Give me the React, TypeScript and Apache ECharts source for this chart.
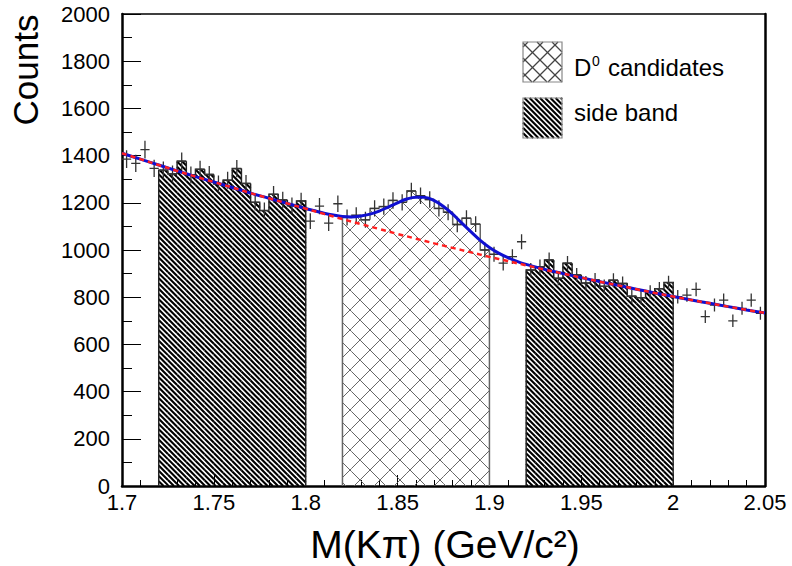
import React, { useEffect, useRef } from "react";
import * as echarts from "echarts";

// ---- data ----
const BIN_START = 1.7;
const BIN_WIDTH = 0.005;
const counts = [
  1385, 1367, 1425, 1346, 1338, 1322, 1376, 1318, 1342, 1320,
  1280, 1296, 1345, 1282, 1202, 1167, 1236, 1212, 1188, 1208,
  1122, 1186, 1114, 1196, 1138, 1147, 1128, 1176, 1184, 1210,
  1202, 1250, 1230, 1214, 1176, 1160, 1108, 1135, 1110, 1000,
  982, 944, 972, 1035, 915, 929, 958, 880, 944, 894,
  860, 873, 846, 872, 858, 804, 798, 822, 836, 862,
  802, 809, 833, 718, 767, 788, 700, 753, 788, 732,
];
const sideBandRanges: [number, number][] = [
  [1.72, 1.8],
  [1.92, 2.0],
];
const signalRange: [number, number] = [1.82, 1.9];

const bgX = [
  1.7, 1.71, 1.72, 1.73, 1.74, 1.75, 1.76, 1.77, 1.78, 1.79, 1.8, 1.81,
  1.82, 1.83, 1.84, 1.85, 1.86, 1.87, 1.88, 1.89, 1.9, 1.91, 1.92, 1.93,
  1.94, 1.95, 1.96, 1.97, 1.98, 1.99, 2.0, 2.01, 2.02, 2.03, 2.04, 2.05,
];
const bgY = [
  1410, 1385, 1360, 1335, 1311, 1288, 1265, 1241, 1219, 1197, 1175, 1153,
  1131, 1110, 1089, 1068, 1048, 1028, 1009, 990, 971, 953, 935, 917,
  900, 883, 866, 850, 834, 818, 803, 788, 774, 760, 746, 733,
];

const fitX = [
  1.7, 1.71, 1.72, 1.73, 1.74, 1.75, 1.76, 1.77, 1.78, 1.79,
  1.8, 1.805, 1.81, 1.815, 1.82, 1.825, 1.83, 1.835, 1.84, 1.845,
  1.85, 1.855, 1.86, 1.865, 1.87, 1.875, 1.88, 1.885, 1.89, 1.895,
  1.9, 1.905, 1.91, 1.915, 1.92,
  1.93, 1.94, 1.95, 1.96, 1.97, 1.98, 1.99, 2.0, 2.01, 2.02, 2.03, 2.04, 2.05,
];
const fitY = [
  1410, 1385, 1360, 1335, 1311, 1288, 1265, 1241, 1219, 1197,
  1176, 1166, 1156, 1148, 1142, 1140, 1144, 1152, 1165, 1182,
  1200, 1216, 1224, 1223, 1209, 1184, 1152, 1114, 1077, 1041,
  1011, 987, 968, 952, 939,
  918, 900, 883, 866, 850, 834, 818, 803, 788, 774, 760, 746, 733,
];

const xTickLabels = ["1.7", "1.75", "1.8", "1.85", "1.9", "1.95", "2", "2.05"];
const yTickLabels = ["0", "200", "400", "600", "800", "1000", "1200", "1400", "1600", "1800", "2000"];
const xTitle = "M(Kπ) (GeV/c²)";
const yTitle = "Counts";
const legendSignal = ["D", "0", "candidates"];
const legendSide = "side band";

const FONT = "'Liberation Sans', Arial, Helvetica, sans-serif";

// ---- helpers ----
function hatchSegs(x0: number, y0: number, x1: number, y1: number, sp: number, dir: number) {
  const segs: number[][] = [];
  if (dir > 0) {
    const kMin = Math.ceil((y0 - x1) / sp);
    const kMax = Math.floor((y1 - x0) / sp);
    for (let k = kMin; k <= kMax; k++) {
      const c = k * sp;
      const xa = Math.max(x0, y0 - c);
      const xb = Math.min(x1, y1 - c);
      if (xb > xa) segs.push([xa, xa + c, xb, xb + c]);
    }
  } else {
    const kMin = Math.ceil((x0 + y0) / sp);
    const kMax = Math.floor((x1 + y1) / sp);
    for (let k = kMin; k <= kMax; k++) {
      const c = k * sp;
      const xa = Math.max(x0, c - y1);
      const xb = Math.min(x1, c - y0);
      if (xb > xa) segs.push([xa, c - xa, xb, c - xb]);
    }
  }
  return segs;
}
function segsToPath(segs: number[][]) {
  return segs
    .map((s) => `M${s[0].toFixed(2)} ${s[1].toFixed(2)}L${s[2].toFixed(2)} ${s[3].toFixed(2)}`)
    .join("");
}

function bandItems(range: [number, number]) {
  const items: number[][] = [];
  const bins: number[] = [];
  for (let i = 0; i < counts.length; i++) {
    const lo = BIN_START + i * BIN_WIDTH;
    const hi = lo + BIN_WIDTH;
    if (lo >= range[0] - 1e-9 && hi <= range[1] + 1e-9) bins.push(i);
  }
  bins.forEach((i, j) => {
    const lo = BIN_START + i * BIN_WIDTH;
    const prev = j === 0 ? 0 : counts[bins[j - 1]];
    const last = j === bins.length - 1 ? 1 : 0;
    items.push([lo, lo + BIN_WIDTH, counts[i], prev, last]);
  });
  return items;
}

function makeHistRender(kind: "side" | "signal") {
  return (params: any, api: any) => {
    const lo = api.value(0);
    const hi = api.value(1);
    const v = api.value(2);
    const pv = api.value(3);
    const last = api.value(4);
    const a = api.coord([lo, 0]);
    const b = api.coord([hi, v]);
    const pvY = api.coord([lo, pv])[1];
    const x0 = a[0], yb = a[1], x1 = b[0], yt = b[1];
    let hatch = "";
    if (kind === "side") {
      hatch = segsToPath(hatchSegs(x0, yt, x1, yb, 5.2, 1));
    } else {
      hatch =
        segsToPath(hatchSegs(x0, yt, x1, yb, 20, 1)) +
        segsToPath(hatchSegs(x0, yt, x1, yb, 20, -1));
    }
    let outline = `M${x0} ${pvY}L${x0} ${yt}L${x1} ${yt}`;
    if (last) outline += `L${x1} ${yb}`;
    const children: any[] = [];
    if (hatch)
      children.push({
        type: "path",
        shape: { pathData: hatch },
        style: {
          fill: "none",
          stroke: kind === "side" ? "#000" : "#666",
          lineWidth: kind === "side" ? 2.1 : 1,
        },
      });
    children.push({
      type: "path",
      shape: { pathData: outline },
      style: { fill: "none", stroke: kind === "side" ? "#222" : "#666", lineWidth: 1.5 },
    });
    return { type: "group", children };
  };
}

function crossRender(params: any, api: any) {
  const x = api.value(0);
  const y = api.value(1);
  const err = Math.sqrt(y);
  const c = api.coord([x, y]);
  const xl = api.coord([x - BIN_WIDTH / 2, y])[0];
  const xr = api.coord([x + BIN_WIDTH / 2, y])[0];
  const yt = api.coord([x, y + err])[1];
  const yb = api.coord([x, y - err])[1];
  return {
    type: "path",
    shape: { pathData: `M${xl} ${c[1]}L${xr} ${c[1]}M${c[0]} ${yt}L${c[0]} ${yb}` },
    style: { fill: "none", stroke: "#333", lineWidth: 1.3 },
  };
}

function legendBox(x: number, y: number, w: number, h: number, kind: "side" | "signal") {
  const els: any[] = [];
  const segs =
    kind === "side"
      ? hatchSegs(x, y, x + w, y + h, 5.2, 1)
      : hatchSegs(x, y, x + w, y + h, 15, 1).concat(hatchSegs(x, y, x + w, y + h, 15, -1));
  segs.forEach((s) =>
    els.push({
      type: "line",
      shape: { x1: s[0], y1: s[1], x2: s[2], y2: s[3] },
      style: { stroke: kind === "side" ? "#000" : "#444", lineWidth: kind === "side" ? 2.1 : 1.2 },
      silent: true,
    })
  );
  els.push({
    type: "rect",
    shape: { x, y, width: w, height: h },
    style: { fill: "none", stroke: "#888", lineWidth: 1.2 },
    silent: true,
  });
  return els;
}

export default function App() {
  const ref = useRef<HTMLDivElement>(null);
  useEffect(() => {
    if (!ref.current) return;
    const chart = echarts.init(ref.current, null, { renderer: "svg" });

    const crossData = counts.map((v, i) => [BIN_START + (i + 0.5) * BIN_WIDTH, v]);
    const bgData = bgX.map((x, i) => [x, bgY[i]]);
    const fitData = fitX.map((x, i) => [x, fitY[i]]);

    const graphic: any[] = [
      ...legendBox(523, 42, 39, 40, "signal"),
      ...legendBox(523, 98, 39, 40, "side"),
      {
        type: "text",
        x: 574,
        y: 67,
        style: { text: legendSignal[0], font: `24px ${FONT}`, fill: "#000", verticalAlign: "middle", align: "left" },
      },
      {
        type: "text",
        x: 592,
        y: 61,
        style: { text: legendSignal[1], font: `14px ${FONT}`, fill: "#000", verticalAlign: "middle", align: "left" },
      },
      {
        type: "text",
        x: 608,
        y: 67,
        style: { text: legendSignal[2], font: `24px ${FONT}`, fill: "#000", verticalAlign: "middle", align: "left" },
      },
      {
        type: "text",
        x: 574,
        y: 112,
        style: { text: legendSide, font: `24px ${FONT}`, fill: "#000", verticalAlign: "middle", align: "left" },
      },
      {
        type: "text",
        x: 25,
        y: 70,
        rotation: Math.PI / 2,
        style: { text: yTitle, font: `35px ${FONT}`, fill: "#000", verticalAlign: "middle", align: "center" },
      },
      {
        type: "text",
        x: 445,
        y: 544,
        style: { text: xTitle, font: `39px ${FONT}`, fill: "#000", verticalAlign: "middle", align: "center" },
      },
    ];

    chart.setOption({
      animation: false,
      backgroundColor: "#fff",
      grid: { left: 122, top: 14, right: 27, bottom: 80, containLabel: false },
      xAxis: [
        {
          type: "value",
          min: 1.7,
          max: 2.05,
          interval: 0.05,
          axisLine: { show: true, onZero: false, lineStyle: { color: "#000", width: 2.5 } },
          axisTick: { show: true, inside: true, length: 11, lineStyle: { color: "#000", width: 1 } },
          minorTick: { show: true, splitNumber: 5, length: 6, lineStyle: { color: "#000", width: 1 } },
          splitLine: { show: false },
          axisLabel: {
            fontSize: 22,
            fontFamily: FONT,
            color: "#000",
            margin: 5,
            formatter: (v: number) => xTickLabels[Math.round((v - 1.7) / 0.05)] ?? "",
          },
        },
        {
          type: "value",
          position: "top",
          min: 1.7,
          max: 2.05,
          axisLine: { show: true, onZero: false, lineStyle: { color: "#000", width: 1.5 } },
          axisTick: { show: false },
          axisLabel: { show: false },
          splitLine: { show: false },
        },
      ],
      yAxis: [
        {
          type: "value",
          min: 0,
          max: 2000,
          interval: 200,
          axisLine: { show: true, onZero: false, lineStyle: { color: "#000", width: 2.5 } },
          axisTick: { show: true, inside: true, length: 19, lineStyle: { color: "#000", width: 1 } },
          minorTick: { show: true, splitNumber: 2, length: 10, lineStyle: { color: "#000", width: 1 } },
          splitLine: { show: false },
          axisLabel: {
            fontSize: 22,
            fontFamily: FONT,
            color: "#000",
            margin: 12,
            formatter: (v: number) => yTickLabels[Math.round(v / 200)] ?? "",
          },
        },
        {
          type: "value",
          position: "right",
          min: 0,
          max: 2000,
          axisLine: { show: true, onZero: false, lineStyle: { color: "#000", width: 2.5 } },
          axisTick: { show: false },
          axisLabel: { show: false },
          splitLine: { show: false },
        },
      ],
      series: [
        {
          type: "custom",
          name: "side band",
          renderItem: makeHistRender("side"),
          data: [...bandItems(sideBandRanges[0]), ...bandItems(sideBandRanges[1])],
          encode: { x: [0, 1], y: 2 },
          z: 1,
          silent: true,
        },
        {
          type: "custom",
          name: "D0 candidates",
          renderItem: makeHistRender("signal"),
          data: bandItems(signalRange),
          encode: { x: [0, 1], y: 2 },
          z: 1,
          silent: true,
        },
        {
          type: "custom",
          name: "data",
          renderItem: crossRender,
          data: crossData,
          encode: { x: 0, y: 1 },
          z: 2,
          silent: true,
        },
        {
          type: "line",
          name: "fit",
          data: fitData,
          smooth: 0.4,
          showSymbol: false,
          lineStyle: { color: "#1010d0", width: 3 },
          z: 3,
          silent: true,
        },
        {
          type: "line",
          name: "background",
          data: bgData,
          smooth: 0.4,
          showSymbol: false,
          lineStyle: { color: "#ff2020", width: 2.5, type: [5, 4] },
          z: 4,
          silent: true,
        },
      ],
      graphic,
    });
    return () => chart.dispose();
  }, []);
  return (
    <div
      ref={ref}
      style={{ position: "absolute", left: 0, top: 0, width: 792, height: 566, background: "#fff" }}
    />
  );
}
